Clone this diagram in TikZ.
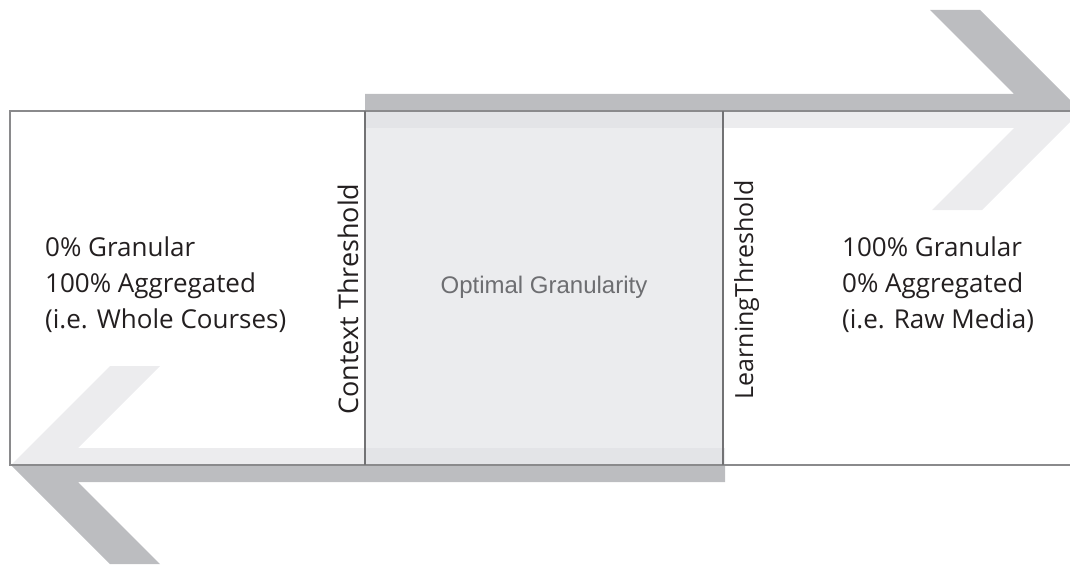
\documentclass[tikz,border=0pt]{standalone}
\usepackage{fontspec}
\setmainfont{Open Sans}
\newfontfamily\arialfont{Liberation Sans}
\usepackage{tikz}
\usepackage{xcolor}

\definecolor{banddark}{HTML}{BCBDC0}
\definecolor{bandlight}{HTML}{ECECEE}
\definecolor{boxgray}{HTML}{DEDFE3}
\definecolor{edgegray}{HTML}{8A8A8C}
\definecolor{zonegray}{HTML}{727274}
\definecolor{textdark}{HTML}{231F20}
\definecolor{textgray}{HTML}{6D6E71}

\tikzset{
  darkband/.style = {fill = banddark, draw = none},
  lightband/.style = {fill = bandlight, draw = none},
  edge/.style = {draw = edgegray, line width = 1.3pt},
  label/.style = {font = \fontsize{26}{36}\selectfont, text = textdark, inner sep = 0pt, anchor = base west},
  threshold/.style = {font = \fontsize{27}{36}\selectfont, text = textdark, inner sep = 0pt, anchor = base, rotate = 90}
}

\begin{document}
\begin{tikzpicture}[x = 1pt, y = -1pt]
\useasboundingbox (0,0) rectangle (1070,567);
\clip (0,0) rectangle (1070,567);

% arrow to the right (top)
\fill[darkband] (365,94) -- (1014,94) -- (930,10) -- (980,10) -- (1081,111) -- (365,111) -- cycle;
\fill[lightband] (365,111) -- (1081,111) -- (982,210) -- (932,210) -- (1014,128) -- (365,128) -- cycle;

% arrow to the left (bottom)
\fill[lightband] (725,448) -- (78,448) -- (160,366) -- (110,366) -- (11,465) -- (725,465) -- cycle;
\fill[darkband] (725,482) -- (78,482) -- (160,564) -- (110,564) -- (11,465) -- (725,465) -- cycle;

% optimal zone
\fill[boxgray, fill opacity = 0.6] (365,111) rectangle (723,465);

% frame
\draw[edge] (1075,111) -- (10,111) -- (10,465) -- (1075,465);
\draw[edge, draw = zonegray] (365,111) -- (365,465);
\draw[edge, draw = zonegray] (723,111) -- (723,465);

% texts
\foreach \txt [count = \i] in {0\% Granular, 100\% Aggregated, (i.e. Whole Courses)}{
  \node[label] (left\i) at (45, 220 + 36*\i) {\txt};
}
\foreach \txt [count = \i] in {100\% Granular, 0\% Aggregated, (i.e. Raw Media)}{
  \node[label] (right\i) at (842, 220 + 36*\i) {\txt};
}
\node[threshold] (context) at (358,299) {Context Threshold};
\node[threshold, font = \fontsize{25}{36}\selectfont] (learning) at (753,290) {LearningThreshold};
\node[font = \arialfont\fontsize{24}{28}\selectfont, text = textgray, inner sep = 0pt, anchor = base] (optimal) at (544,293) {Optimal Granularity};
\end{tikzpicture}
\end{document}
